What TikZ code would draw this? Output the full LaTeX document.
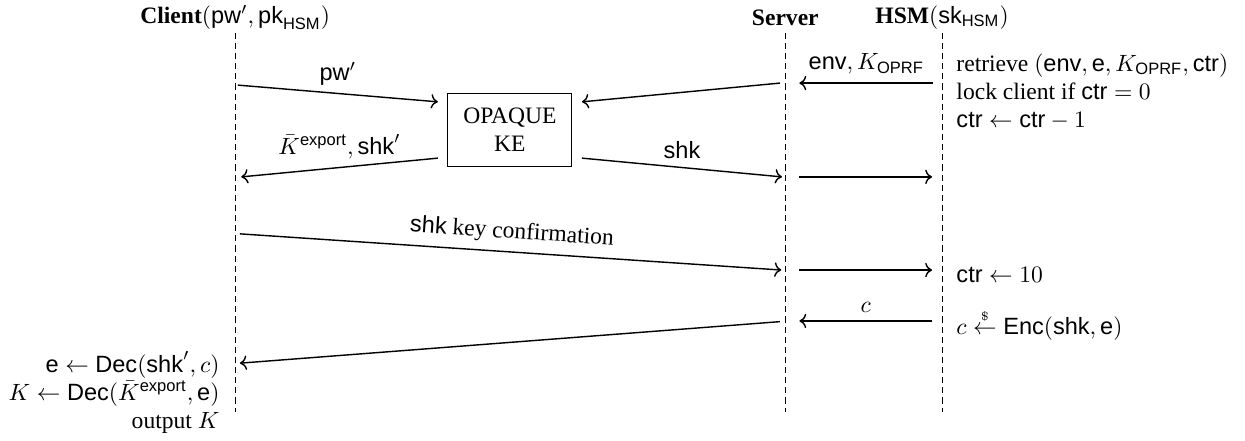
\documentclass[tikz,border=0pt]{standalone}
\usepackage{amsmath}
\usepackage{fontspec}
\setmainfont{Liberation Serif}
\setsansfont{Liberation Sans}
\usetikzlibrary{arrows.meta,calc}

\begin{document}
\begin{tikzpicture}[x=1cm,y=1cm,>=To,life/.style={dash pattern=on 2.6pt off 1.7pt,line width=.45pt},msg/.style={->,line width=.6pt},kebox/.style={draw,line width=.45pt,align=center,minimum width=1.85cm,minimum height=1.1cm,outer sep=.15cm},note/.style={anchor=west,align=left}]
\path[use as bounding box] (0,0) rectangle (18.58,6.58);

% parties
\node (client) at (3.51,6.32) {\textbf{Client}$(\mathsf{pw}',\mathsf{pk}_{\mathsf{HSM}})$};
\node (server) at (11.72,6.32) {\textbf{Server}};
\node (hsm) at (14.06,6.32) {\textbf{HSM}$(\mathsf{sk}_{\mathsf{HSM}})$};
\foreach \p/\x in {client/3.51,server/11.72,hsm/14.06}{
  \coordinate (\p top) at (\x,6.09);
  \coordinate (\p bot) at (\x,0.43);
  \draw[life] (\p top) -- (\p bot);
}

\node[kebox] (ke) at (7.61,4.64) {OPAQUE\\KE};

% message ends
\coordinate (c1) at (3.55,5.31);
\coordinate (s1) at (11.64,5.34);
\coordinate (s1r) at (11.93,5.34);
\coordinate (h1) at (13.93,5.34);
\coordinate (c2) at (3.60,3.94);
\coordinate (s2) at (11.67,3.94);
\coordinate (s2r) at (11.93,3.94);
\coordinate (h2) at (13.91,3.94);
\coordinate (c3) at (3.58,3.09);
\coordinate (s3) at (11.66,2.55);
\coordinate (s3r) at (11.93,2.55);
\coordinate (h3) at (13.91,2.55);
\coordinate (h4) at (13.91,1.79);
\coordinate (s4r) at (11.93,1.79);
\coordinate (s4) at (11.64,1.78);
\coordinate (c4) at (3.58,1.16);

\draw[msg] (c1) -- node[above] {$\mathsf{pw}'$} ($(ke.north west)!.2!(ke.south west)$);
\draw[msg] (s1) -- ($(ke.north east)!.2!(ke.south east)$);
\draw[msg] (h1) -- node[above] {$\mathsf{env},K_{\mathsf{OPRF}}$} (s1r);
\draw[msg] ($(ke.north west)!.8!(ke.south west)$) -- node[above] {$\bar{K}^{\mathsf{export}},\mathsf{shk}'$} (c2);
\draw[msg] ($(ke.north east)!.8!(ke.south east)$) -- node[above] {$\mathsf{shk}$} (s2);
\draw[msg] (s2r) -- (h2);
\draw[msg] (c3) -- node[above,sloped] {$\mathsf{shk}$ key confirmation} (s3);
\draw[msg] (s3r) -- (h3);
\draw[msg] (h4) -- node[above] {$c$} (s4r);
\draw[msg] (s4) -- (c4);

% local steps
\node[note] (retrieve) at (14.15,5.21) {retrieve $(\mathsf{env},\mathsf{e},K_{\mathsf{OPRF}},\mathsf{ctr})$\\lock client if $\mathsf{ctr}=0$\\$\mathsf{ctr}\leftarrow\mathsf{ctr}-1$};
\node[note] (reset) at (14.15,2.48) {$\mathsf{ctr}\leftarrow 10$};
\node[note] (enc) at (14.15,1.73) {$c\mathrel{\overset{\scriptscriptstyle\$}{\leftarrow}}\mathsf{Enc}(\mathsf{shk},\mathsf{e})$};
\node[anchor=east,align=right] (out) at (3.40,0.72) {$\mathsf{e}\leftarrow\mathsf{Dec}(\mathsf{shk}',c)$\\$K\leftarrow\mathsf{Dec}(\bar{K}^{\mathsf{export}},\mathsf{e})$\\output $K$};

\end{tikzpicture}
\end{document}
